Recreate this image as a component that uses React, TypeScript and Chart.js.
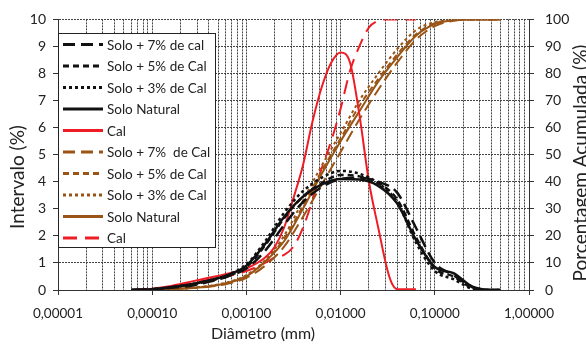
import React, { useEffect, useRef } from 'react';
import { Chart, registerables } from 'chart.js';

Chart.register(...registerables);

// Diameters (mm) for the soil series
const diamSolo = [0.00006, 0.0001, 0.000158, 0.000251, 0.000398, 0.000631, 0.001, 0.00158, 0.00251, 0.00398, 0.00631, 0.01, 0.0158, 0.0251, 0.0398, 0.0631, 0.1, 0.158, 0.251, 0.398, 0.501];

// Interval (%) – left axis
const solo7Int = [0, 0.02, 0.08, 0.15, 0.3, 0.5, 0.8, 1.45, 2.4, 3.25, 3.8, 4.1, 4.15, 4.0, 3.6, 2.3, 1.0, 0.55, 0.1, 0, 0];
const solo5Int = [0, 0.03, 0.1, 0.2, 0.33, 0.52, 0.85, 1.65, 2.65, 3.45, 3.95, 4.25, 4.2, 3.95, 3.35, 1.95, 0.8, 0.5, 0.08, 0, 0];
const solo3Int = [0, 0.03, 0.1, 0.2, 0.35, 0.55, 0.95, 1.8, 2.85, 3.65, 4.15, 4.4, 4.3, 3.95, 3.25, 1.75, 0.7, 0.4, 0.05, 0, 0];
const soloNatInt = [0, 0.03, 0.1, 0.2, 0.35, 0.55, 0.9, 1.7, 2.7, 3.45, 3.9, 4.1, 4.08, 3.85, 3.2, 1.85, 0.85, 0.62, 0.12, 0, 0];

// Cumulative (%) – right axis
const solo7Cum = [0, 0.1, 0.25, 0.6, 1.2, 2.3, 4.5, 9, 16, 27, 39, 51, 63, 74, 84, 92.5, 97.5, 99.5, 100, 100, 100];
const solo5Cum = [0, 0.1, 0.3, 0.7, 1.4, 2.7, 5.2, 10.5, 19, 31, 44, 56, 68, 78, 87, 94.5, 98.6, 99.7, 100, 100, 100];
const solo3Cum = [0, 0.1, 0.3, 0.8, 1.5, 2.9, 5.5, 11, 20, 33, 46, 58, 70, 80, 89, 96, 99, 99.8, 100, 100, 100];
const soloNatCum = [0, 0.1, 0.3, 0.7, 1.3, 2.6, 5, 10.5, 18, 30, 43, 55, 66, 77, 86, 94, 98.3, 99.7, 100, 100, 100];

// Diameters (mm) for the lime (Cal) series
const diamCal = [0.000063, 0.0001, 0.000158, 0.000251, 0.000398, 0.000631, 0.001, 0.00158, 0.002, 0.00251, 0.00316, 0.00398, 0.00501, 0.00631, 0.00794, 0.01, 0.0126, 0.0158, 0.02, 0.0251, 0.0316, 0.0355, 0.0398, 0.0631];
const calInt = [0, 0.05, 0.15, 0.3, 0.45, 0.6, 0.8, 1.2, 1.6, 2.3, 3.4, 4.6, 6.2, 7.5, 8.4, 8.78, 8.4, 6.5, 4.0, 2.3, 0.7, 0.2, 0.03, 0.03];
const calCum = [0, 0.5, 1.2, 2.5, 3.8, 5, 7, 10, 12, 13, 16, 23, 33, 45, 55, 67, 81, 90, 97, 99.5, 100, 100, 100, 100];

// Axis ticks
const xDecades = [0.00001, 0.0001, 0.001, 0.01, 0.1, 1];
const xTickLabels = ['0,00001', '0,00010', '0,00100', '0,01000', '0,10000', '1,00000'];
const leftTicks = [0, 1, 2, 3, 4, 5, 6, 7, 8, 9, 10];
const rightTicks = [0, 10, 20, 30, 40, 50, 60, 70, 80, 90, 100];

const seriesLabels = [
  'Solo + 7% de cal',
  'Solo + 5% de Cal',
  'Solo + 3% de Cal',
  'Solo Natural',
  'Cal',
  'Solo + 7%  de Cal',
  'Solo + 5% de Cal',
  'Solo + 3% de Cal',
  'Solo Natural',
  'Cal',
];

const FONT = 'Lato, "Open Sans", sans-serif';
const TEXT = '#222222';
const BLACK = '#111111';
const RED = '#ee1c25';
const BROWN = '#9a5516';
const GRID = '#444444';

const LONG = [12, 6];
const SHORT = [6, 4];
const DOT = [3, 3];

function pts(xs: number[], ys: number[]) {
  return xs.map((x, i) => ({ x, y: ys[i] }));
}

function ds(label: string, xs: number[], ys: number[], color: string, dash: number[], width: number, axis: string) {
  return {
    label,
    data: pts(xs, ys),
    borderColor: color,
    backgroundColor: color,
    borderDash: dash,
    borderWidth: width,
    yAxisID: axis,
    pointRadius: 0,
    fill: false,
    cubicInterpolationMode: 'monotone' as const,
  };
}

const legendPlugin = {
  id: 'boxLegend',
  afterDatasetsDraw(chart: any) {
    const ctx = chart.ctx;
    const a = chart.chartArea;
    const L = a.left, T = 33, R = 216, B = 248;
    ctx.save();
    ctx.fillStyle = '#ffffff';
    ctx.fillRect(L, T, R - L, B - T);
    ctx.strokeStyle = '#222';
    ctx.lineWidth = 1;
    ctx.setLineDash([]);
    ctx.strokeRect(L + 0.5, T + 0.5, R - L - 1, B - T - 1);
    chart.data.datasets.forEach((d: any, i: number) => {
      const y = 44.5 + i * 21.5;
      ctx.beginPath();
      ctx.setLineDash(d.borderDash || []);
      ctx.strokeStyle = d.borderColor;
      ctx.lineWidth = 3;
      ctx.moveTo(63, y);
      ctx.lineTo(103, y);
      ctx.stroke();
      ctx.setLineDash([]);
      ctx.fillStyle = TEXT;
      ctx.font = '13.5px ' + FONT;
      ctx.textBaseline = 'middle';
      ctx.textAlign = 'left';
      ctx.fillText(d.label, 107, y + 1);
    });
    ctx.restore();
  },
};

const titlePlugin = {
  id: 'axisTitles',
  afterDraw(chart: any) {
    const ctx = chart.ctx;
    ctx.save();
    ctx.fillStyle = TEXT;
    ctx.textAlign = 'center';
    ctx.textBaseline = 'middle';
    ctx.font = '19px ' + FONT;
    ctx.save();
    ctx.translate(18, 177);
    ctx.rotate(-Math.PI / 2);
    ctx.fillText('Intervalo (%)', 0, 0);
    ctx.restore();
    ctx.save();
    ctx.translate(581, 163);
    ctx.rotate(-Math.PI / 2);
    ctx.fillText('Porcentagem Acumulada (%)', 0, 0);
    ctx.restore();
    ctx.font = '16px ' + FONT;
    ctx.fillText('Diâmetro (mm)', 263, 334);
    ctx.restore();
  },
};

function isDecade(v: number) {
  return xDecades.findIndex((d) => Math.abs(v - d) / d < 1e-6);
}

export default function App() {
  const ref = useRef<HTMLCanvasElement | null>(null);

  useEffect(() => {
    document.body.style.margin = '0';
    const canvas = ref.current;
    if (!canvas) return;

    const datasets = [
      ds(seriesLabels[0], diamSolo, solo7Int, BLACK, LONG, 2.5, 'y'),
      ds(seriesLabels[1], diamSolo, solo5Int, BLACK, SHORT, 2.5, 'y'),
      ds(seriesLabels[2], diamSolo, solo3Int, BLACK, DOT, 2.5, 'y'),
      ds(seriesLabels[3], diamSolo, soloNatInt, BLACK, [], 2.5, 'y'),
      ds(seriesLabels[4], diamCal, calInt, RED, [], 2, 'y'),
      ds(seriesLabels[5], diamSolo, solo7Cum, BROWN, LONG, 2, 'y1'),
      ds(seriesLabels[6], diamSolo, solo5Cum, BROWN, SHORT, 2, 'y1'),
      ds(seriesLabels[7], diamSolo, solo3Cum, BROWN, DOT, 2, 'y1'),
      ds(seriesLabels[8], diamSolo, soloNatCum, BROWN, [], 2, 'y1'),
      ds(seriesLabels[9], diamCal, calCum, RED, [14, 8], 2, 'y1'),
    ];

    const chart = new Chart(canvas, {
      type: 'line',
      data: { datasets },
      plugins: [legendPlugin, titlePlugin],
      options: {
        responsive: false,
        animation: false,
        devicePixelRatio: 1,
        layout: { padding: { top: 19, left: 0, right: 0, bottom: 0 } },
        plugins: { legend: { display: false }, tooltip: { enabled: false } },
        scales: {
          x: {
            type: 'logarithmic',
            min: xDecades[0],
            max: xDecades[xDecades.length - 1],
            afterFit(scale: any) {
              scale.height = 61;
            },
            afterBuildTicks(scale: any) {
              const t: any[] = [];
              for (let i = 0; i < xDecades.length - 1; i++) {
                for (let m = 1; m <= 9; m++) t.push({ value: xDecades[i] * m });
              }
              t.push({ value: xDecades[xDecades.length - 1] });
              scale.ticks = t;
            },
            ticks: {
              autoSkip: false,
              maxRotation: 0,
              minRotation: 0,
              padding: 11,
              color: TEXT,
              font: { family: FONT, size: 13.5 },
              callback(value: any) {
                const i = isDecade(Number(value));
                return i >= 0 ? xTickLabels[i] : '';
              },
            },
            grid: {
              color: GRID,
              lineWidth: 1,
              drawTicks: true,
              tickLength: 5,
              tickColor: (c: any) => (c.tick && isDecade(c.tick.value) >= 0 ? '#333' : 'rgba(0,0,0,0)'),
            },
            border: { display: true, color: '#333', width: 1, dash: [2, 1] },
          },
          y: {
            type: 'linear',
            position: 'left',
            min: 0,
            max: 10,
            afterFit(scale: any) {
              scale.width = 58;
            },
            afterBuildTicks(scale: any) {
              scale.ticks = leftTicks.map((v) => ({ value: v }));
            },
            ticks: {
              padding: 7,
              color: TEXT,
              font: { family: FONT, size: 14 },
            },
            grid: { color: GRID, lineWidth: 1, tickLength: 5, tickColor: '#333' },
            border: { display: true, color: '#333', width: 1, dash: [2, 1] },
          },
          y1: {
            type: 'linear',
            position: 'right',
            min: 0,
            max: 100,
            afterFit(scale: any) {
              scale.width = 57;
            },
            afterBuildTicks(scale: any) {
              scale.ticks = rightTicks.map((v) => ({ value: v }));
            },
            ticks: {
              padding: 11,
              color: TEXT,
              font: { family: FONT, size: 14 },
            },
            grid: { drawOnChartArea: false, tickLength: 5, tickColor: '#333', color: '#333' },
            border: { display: true, color: '#333', width: 1 },
          },
        },
      } as any,
    });

    return () => chart.destroy();
  }, []);

  return (
    <div style={{ position: 'absolute', left: 0, top: 0 }}>
      <canvas ref={ref} width={586} height={351} style={{ display: 'block', width: 586, height: 351 }} />
    </div>
  );
}
